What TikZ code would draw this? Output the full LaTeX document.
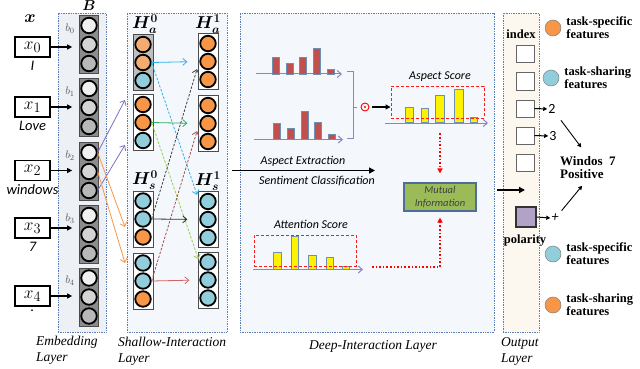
\documentclass[tikz,border=0pt]{standalone}
\usepackage{fontspec}
\usepackage{bm}
\usetikzlibrary{arrows.meta,positioning}
\newfontfamily\calibfont{Carlito}
\newfontfamily\camfont{Liberation Serif}

\definecolor{taskorange}{HTML}{F79646}
\definecolor{taskblue}{HTML}{92CDDC}
\definecolor{palorange}{HTML}{F2AC72}
\definecolor{barred}{HTML}{C0504D}
\definecolor{baredge}{HTML}{6F8FB5}
\definecolor{axispurple}{HTML}{9080C8}
\definecolor{framecol}{HTML}{5B7DB5}
\definecolor{milgreen}{HTML}{9BBB59}
\definecolor{miledge}{HTML}{4F6D9A}
\definecolor{polpurple}{HTML}{B3A2C7}
\definecolor{embfill}{HTML}{EDF0F5}
\definecolor{layfill}{HTML}{F4F7FB}
\definecolor{outfill}{HTML}{FCF7EF}
\definecolor{cyanc}{HTML}{2EB3E8}
\definecolor{greenc}{HTML}{27AE60}
\definecolor{lgreenc}{HTML}{9ACD4C}
\definecolor{brownc}{HTML}{A05050}
\definecolor{pinkc}{HTML}{D26464}
\definecolor{arrpurple}{HTML}{7F6FC0}

\tikzset{
  layerbox/.style={draw=framecol, densely dotted, line width=0.7pt, inner sep=0},
  colbox/.style={draw=black!70, line width=0.7pt, minimum width=20pt, minimum height=56pt, inner sep=0},
  ball/.style={circle, draw=black, line width=1.8pt, minimum size=15.5pt, inner sep=0},
  xbox/.style={draw=black, line width=1.2pt, minimum width=35pt, minimum height=20pt, inner sep=0,
    font=\fontsize{19}{19}\selectfont},
  word/.style={inner sep=0pt, font=\calibfont\itshape\fontsize{14.5}{15}\selectfont},
  calit/.style={inner sep=0pt, font=\calibfont\itshape\fontsize{12}{14}\selectfont},
  camb/.style={inner sep=0pt, align=left, font=\camfont\bfseries\fontsize{12.5}{13}\selectfont},
  laytext/.style={inner sep=0pt, align=left, font=\camfont\itshape\fontsize{13.5}{16}\selectfont},
  hlab/.style={inner sep=0pt, font=\fontsize{17}{17}\selectfont},
  embarrow/.style={-{Triangle[length=5pt,width=5pt]}, line width=1.2pt},
  bigarrow/.style={-{Triangle[length=6pt,width=6pt]}, line width=1.6pt},
  sharrow/.style={-{Straight Barb[length=4pt,width=7pt]}, line width=0.8pt},
  dsh/.style={dash pattern=on 2.5pt off 1.5pt},
  axarrow/.style={draw=axispurple, line width=1pt, -{Straight Barb[length=4pt,width=7pt]}},
  bar/.style={draw=baredge, line width=0.9pt},
  redbox/.style={draw=red!90, dash pattern=on 3pt off 2pt, line width=0.9pt, inner sep=0},
  reddot/.style={draw=red, dotted, line width=1.6pt, -{Triangle[length=5pt,width=5pt]}},
  outsq/.style={draw=black!60, line width=1pt, fill=white, minimum width=18pt, minimum height=17pt, inner sep=0},
  legdot/.style={circle, draw=black!50, line width=0.5pt, minimum size=16pt, inner sep=0},
  smallarrow/.style={-{Triangle[length=4pt,width=4pt]}, line width=1pt}
}

\begin{document}
\begin{tikzpicture}[x=1pt,y=-1pt]
  % Canvas
  \fill[white] (0,0) rectangle (640,369);
  \useasboundingbox (0,0) rectangle (640,369);

  % Layer frames
  \node[layerbox, fill=embfill, minimum width=48pt, minimum height=319pt] (emb) at (82,172.5) {};
  \node[layerbox, fill=layfill, minimum width=100pt, minimum height=319pt] (shal) at (177,172.5) {};
  \node[layerbox, fill=layfill, minimum width=254pt, minimum height=319pt] (deep) at (367,172.5) {};
  \node[layerbox, fill=outfill, minimum width=36pt, minimum height=319pt] (outl) at (521,172.5) {};

  % Embedding columns
  \node[inner sep=0, font=\fontsize{17}{17}\selectfont] (xlab) at (30,19) {$\bm{x}$};
  \node[inner sep=0, font=\fontsize{15}{15}\selectfont] (blab) at (89,6) {$\bm{B}$};
  \foreach \i/\cy in {0/44.5, 1/107.5, 2/171.5, 3/234.5, 4/297} {
    \node[colbox, fill=black!45, minimum width=19pt, minimum height=58pt] (b\i) at (89,\cy) {};
    \node[ball, fill=black!6] (b\i-1) at (89,\cy-19) {};
    \node[ball, fill=black!17] (b\i-2) at (89,\cy) {};
    \node[ball, fill=black!28] (b\i-3) at (89,\cy+19) {};
    \node[inner sep=0, text=black!65, font=\fontsize{11}{11}\selectfont] (bl\i) at (70,\cy-16) {$b_{\i}$};
  }

  % Input words
  \foreach \i/\cy/\w in {0/47/I, 1/107/Love, 2/170.5/windows, 3/228/7, 4/296/.} {
    \node[xbox] (x\i) at (32.5,\cy) {$x_{\i}$};
    \node[word, below=3pt of x\i] (w\i) {\w};
    \draw[embarrow, shorten >=7pt] (x\i.east) -- (x\i.east -| b\i.west);
  }

  % Embedding to shallow
  \coordinate (pa1) at (125,100);
  \coordinate (pa2) at (125,145);
  \coordinate (po1) at (125,227);
  \coordinate (po2) at (125,263);
  \draw[sharrow, arrpurple] (b2-1.east) -- (pa1);
  \draw[sharrow, arrpurple] (b2-3.east) -- (pa2);
  \draw[sharrow, taskorange] (b2-1.east) -- (po1);
  \draw[sharrow, taskorange] (b2-2.east) -- (po2);

  % Shallow-interaction columns
  \foreach \nm/\cx/\cy/\ca/\cb/\cc/\bg in {
      la1/143/62.5/palorange/palorange/taskblue/black!25,
      la2/143/122.5/taskorange/taskorange/taskblue/white,
      ls1/143/219/taskblue/taskblue/taskorange/white,
      ls2/143/281/taskblue/taskblue/taskorange/white,
      ra1/208/61.5/taskorange/taskorange/taskorange/white,
      ra2/208/123.5/taskorange/taskorange/taskorange/white,
      rs1/208/219.5/taskblue/taskblue/taskblue/white,
      rs2/208/280/taskblue/taskblue/taskblue/white} {
    \node[colbox, fill=\bg] (\nm) at (\cx,\cy) {};
    \node[ball, fill=\ca] (\nm-1) at (\cx,\cy-18) {};
    \node[ball, fill=\cb] (\nm-2) at (\cx,\cy) {};
    \node[ball, fill=\cc] (\nm-3) at (\cx,\cy+18) {};
  }
  \node[hlab] (ha0) at (145,24) {$\bm{H}_{\bm{a}}^{\bm{0}}$};
  \node[hlab] (ha1) at (208,24) {$\bm{H}_{\bm{a}}^{\bm{1}}$};
  \node[hlab] (hs0) at (145,180) {$\bm{H}_{\bm{s}}^{\bm{0}}$};
  \node[hlab] (hs1) at (208,181) {$\bm{H}_{\bm{s}}^{\bm{1}}$};

  % Shallow interaction arrows
  \draw[sharrow, cyanc, shorten >=12pt] (la1-2.east) -- (ra1-2.west);
  \draw[sharrow, cyanc, dsh, shorten >=7pt] (la1-2.east) -- (rs1-1.west);
  \draw[sharrow, greenc, shorten >=12pt] (la2-2.east) -- (ra2-2.west);
  \draw[sharrow, lgreenc, dsh, shorten >=3pt] (la2-2.east) -- (rs2-1.west);
  \draw[sharrow, black!80, shorten >=12pt] (ls1-2.east) -- (rs1-2.west);
  \draw[sharrow, black!75, dsh, shorten >=8pt] (ls1-2.east) -- (ra1-2.west);
  \draw[sharrow, pinkc, shorten >=10pt] (ls2-2.east) -- (rs2-2.west);
  \draw[sharrow, brownc, dsh, shorten >=8pt] (ls2-2.east) -- (ra2-2.west);

  % Deep interaction: word scores
  \draw[axarrow] (256,74) -- (342,74);
  \foreach \bx/\bt in {272/57, 286/63, 299/57, 313/48, 327/69}
    \draw[bar, fill=barred] (\bx,74) rectangle (\bx+7,\bt);
  \draw[axarrow] (254,139.5) -- (343,139.5);
  \foreach \bx/\bt in {273/123, 287/128, 301/111, 314/122, 328/134}
    \draw[bar, fill=barred] (\bx,139.5) rectangle (\bx+7,\bt);
  \draw[draw=axispurple, line width=1pt] (347,72) -- (353,72) -- (353,138) -- (347,138)
    (353,107) -- (357,107);

  % Aspect score
  \node[circle, draw=red, line width=0.9pt, minimum size=8pt, inner sep=0] (od) at (365,107) {};
  \fill[red] (od.center) circle (1.1pt);
  \draw[axarrow] (385,123) -- (488,123);
  \foreach \bx/\bt/\bw in {405/107/8, 421/108/7, 435/95/9, 454/89/9, 470/117/7}
    \draw[bar, fill=yellow] (\bx,122) rectangle (\bx+\bw,\bt);
  \node[redbox, minimum width=93pt, minimum height=32pt] (asp) at (437.5,102) {};
  \node[calit] (asptxt) at (440,77) {Aspect Score};
  \draw[embarrow, shorten <=3pt] (od.east) -- (od.east -| asp.west);

  % Aspect extraction / sentiment classification
  \coordinate (aeend) at (375,170.5);
  \draw[bigarrow, shorten <=5pt] (shal.east |- aeend) -- (aeend);
  \node[calit] (ae) at (303,161) {Aspect Extraction};
  \node[calit] (sc) at (317,181) {Sentiment Classification};

  % Mutual information
  \node[draw=miledge, line width=1.1pt, fill=milgreen, minimum width=72pt, minimum height=28pt,
    inner sep=0, align=center, text=black!75, font=\calibfont\itshape\fontsize{10.5}{13}\selectfont]
    (mi) at (440,197) {Mutual\\Information};
  \draw[reddot, shorten <=15pt, shorten >=9pt] (asp.south -| mi.north) -- (mi.north);

  % Attention score
  \draw[axarrow] (253,269.5) -- (363,269.5);
  \foreach \bx/\bt/\bw in {273/252/8, 291/236/7, 308/255/8, 326/257/7, 342/266/7}
    \draw[bar, fill=yellow] (\bx,269) rectangle (\bx+\bw,\bt);
  \node[redbox, minimum width=102pt, minimum height=31pt] (att) at (305,250.5) {};
  \node[calit] (atttxt) at (311,224) {Attention Score};
  \coordinate (atts) at (372,267);
  \draw[reddot, shorten >=6pt] (atts) -| (mi.south);

  % Output layer
  \coordinate (outin) at (525,190);
  \draw[bigarrow, shorten <=3pt] (deep.east |- outin) -- (outin);
  \node[camb] (idx) at (521,34) {index};
  \foreach \i/\cy in {1/54, 2/81.5, 3/108.5, 4/135.5, 5/162.5}
    \node[outsq] (o\i) at (525,\cy) {};
  \node[draw=black!80, line width=1.2pt, fill=polpurple, minimum width=20pt, minimum height=20pt,
    inner sep=0] (pol) at (526,217) {};
  \node[camb] (poltxt) at (525,241) {polarity};
  \node[inner sep=1pt, font=\calibfont\fontsize{14}{14}\selectfont] (n2) at (552,109) {2};
  \node[inner sep=1pt, font=\calibfont\fontsize{14}{14}\selectfont] (n3) at (553,136) {3};
  \node[inner sep=1pt, font=\calibfont\itshape\fontsize{14}{14}\selectfont] (plus) at (555,218) {+};
  \draw[smallarrow] (o3.east) -- (n2.west);
  \draw[smallarrow] (o4.east) -- (n3.west);
  \draw[smallarrow] (pol.east) -- (plus.west);
  \node[camb, anchor=west, font=\camfont\bfseries\fontsize{13}{13}\selectfont] (win) at (560,167.5) {Windos~~7\\Positive};
  \draw[smallarrow, line width=0.9pt, shorten <=7pt, shorten >=11pt] (n2.south east) -- (win.north);
  \draw[smallarrow, line width=0.9pt, shorten <=3pt, shorten >=9pt] (plus.north east) -- (win.south);

  % Legend
  \foreach \i/\cx/\cy/\col/\txt in {1/553/28/taskorange/task-specific,
      2/551/78/taskblue/task-sharing, 3/553/254/taskblue/task-specific,
      4/553/305/taskorange/task-sharing} {
    \node[legdot, fill=\col] (lg\i) at (\cx,\cy) {};
    \node[camb, right=5pt of lg\i] (lt\i) {\txt\\features};
  }

  % Layer names
  \node[laytext, anchor=west] (embtxt) at (36,350) {Embedding\\Layer};
  \node[laytext, anchor=west] (shaltxt) at (118,351) {Shallow-Interaction\\Layer};
  \node[laytext] (deeptxt) at (373,346) {Deep-Interaction Layer};
  \node[laytext, anchor=west] (outtxt) at (501,351) {Output\\Layer};
\end{tikzpicture}
\end{document}
